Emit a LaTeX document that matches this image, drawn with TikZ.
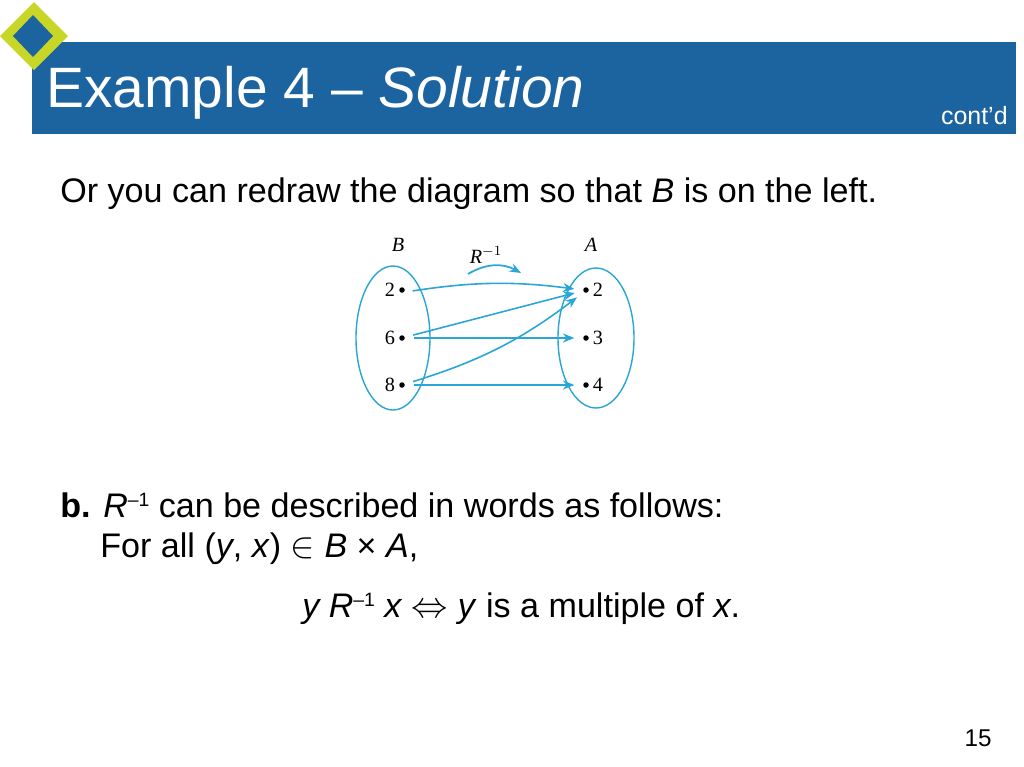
\documentclass[tikz,border=0pt]{standalone}
\usepackage{fontspec}
\setmainfont{Liberation Sans}
\newfontfamily\figfont{Liberation Serif}
\usetikzlibrary{arrows.meta}
\definecolor{slideblue}{RGB}{28,100,160}
\definecolor{slidegreen}{RGB}{200,214,40}
\definecolor{mapcyan}{RGB}{41,166,214}
\newcommand{\invsup}{\raisebox{6pt}{\fontsize{11}{11}\selectfont –1}}
\tikzset{
  bodytext/.style={anchor=base west, inner sep=0pt, font=\fontsize{19.4}{22}\selectfont},
  dot/.style={circle, fill=black, inner sep=0pt, minimum size=1.1mm},
  setlabel/.style={font=\figfont\fontsize{11.5}{13}\selectfont\itshape},
  numlabel/.style={font=\figfont\fontsize{11.5}{13}\selectfont},
  maparrow/.style={draw=mapcyan, line width=0.9pt, -{Stealth[length=2.3mm, width=1.8mm]}, shorten <=1.7mm, shorten >=1.7mm}
}
\begin{document}
\begin{tikzpicture}[x=0.2mm, y=-0.2mm]
  \useasboundingbox (0,0) rectangle (1024,767);
  \fill[white] (0,0) rectangle (1024,767);
  % title bar
  \fill[slideblue] (32,42) rectangle (1016,134);
  \fill[slidegreen] (34,2) -- (68,36) -- (34,70) -- (0,36) -- cycle;
  \fill[slideblue] (33,15) -- (53,36) -- (33,57) -- (13,36) -- cycle;
  \node[anchor=base west, inner sep=0pt, text=white, font=\fontsize{32.4}{36}\selectfont] (title) at (46,107) {Example 4 -- \textit{Solution}};
  \node[anchor=base east, inner sep=0pt, text=white, font=\fontsize{14.2}{16}\selectfont] (contd) at (1008,124) {cont’d};
  \node[bodytext] (intro) at (60,202) {Or you can redraw the diagram so that \textit{B} is on the left.};
  % the arrow diagram
  \draw[mapcyan, line width=0.8pt] (393,338) ellipse [x radius=37, y radius=72];
  \draw[mapcyan, line width=0.8pt] (596,338) ellipse [x radius=38, y radius=70];
  \node[setlabel] (setB) at (398,245) {B};
  \node[setlabel] (setA) at (591,245) {A};
  \node[numlabel, anchor=base] (rinv) at (486,263) {\textit{R}\textsuperscript{$-1$}};
  \coordinate (rs) at (468,274);
  \coordinate (re) at (521,273);
  \draw[mapcyan, line width=1pt, -{Stealth[length=2.3mm, width=1.8mm]}] (rs) to[bend left=30] (re);
  \node[dot, label={[numlabel, inner sep=2pt]left:2}] (b2) at (402,290) {};
  \node[dot, label={[numlabel, inner sep=2pt]left:6}] (b6) at (402,338) {};
  \node[dot, label={[numlabel, inner sep=2pt]left:8}] (b8) at (402,385) {};
  \node[dot, label={[numlabel, inner sep=2pt]right:2}] (a2) at (586,290) {};
  \node[dot, label={[numlabel, inner sep=2pt]right:3}] (a3) at (586,338) {};
  \node[dot, label={[numlabel, inner sep=2pt]right:4}] (a4) at (586,385) {};
  \draw[maparrow] (b2.south east) to[bend left=8] (a2.west);
  \draw[maparrow] (b6) -- (a2);
  \draw[maparrow] (b6) -- (a3);
  \draw[maparrow] (b8) to[bend right=10] (a2.south west);
  \draw[maparrow] (b8) -- (a4);
  % part b
  \node[bodytext] (partb) at (60,517) {\textbf{b.} \textit{R}\invsup{} can be described in words as follows:};
  \node[bodytext] (forall) at (100,557) {For all (\textit{y}, \textit{x}) $\in$ \textit{B} × \textit{A},};
  \node[bodytext] (rule) at (302,617) {\textit{y R}\invsup{} \textit{x} $\Leftrightarrow$ \textit{y} is a multiple of \textit{x}.};
  \node[anchor=base east, inner sep=0pt, font=\fontsize{13.8}{16}\selectfont] (page) at (992,746) {15};
\end{tikzpicture}
\end{document}
